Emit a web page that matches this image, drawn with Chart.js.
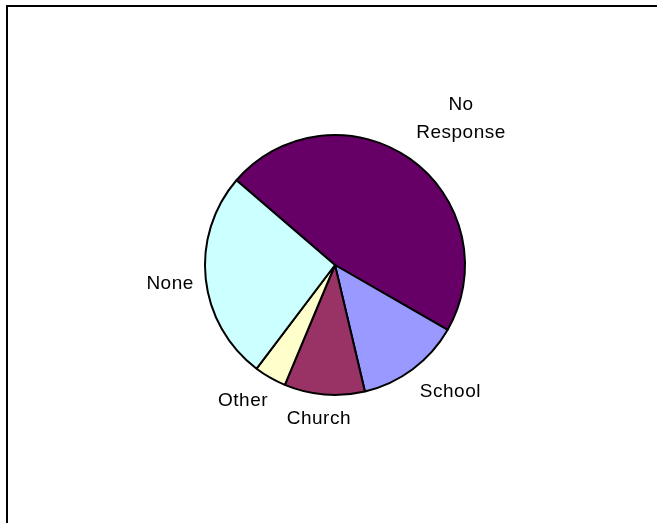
<!DOCTYPE html>
<html>
<head>
<meta charset="utf-8">
<script src="https://cdn.jsdelivr.net/npm/chart.js@4/dist/chart.umd.min.js"></script>
<style>
	body { margin:0; background:#fff; overflow:hidden; }
	#wrap { position:relative; width:657px; height:523px; overflow:hidden; }
	#frame { position:absolute; left:6px; top:5px; width:720px; height:600px; border-left:2px solid #000; border-top:2px solid #000; }
	#pie { position:absolute; left:0; top:0; }
</style>
</head>
<body>
<div id="wrap">
	<div id="frame"></div>
	<canvas id="pie" width="657" height="523"></canvas>
</div>
<script>
var categories = [ ["No","Response"], "School", "Church", "Other", "None" ];
var responses = [ 47, 13, 10, 4, 26 ];
var sliceColors = [ "#660066", "#9999FF", "#993366", "#FFFFCC", "#CCFFFF" ];

// labels sit just outside the rim along the slice's middle angle;
// the box slides sideways so a corner, not the centre, faces the pie
var outsideLabels =
	{
		id: 'outsideLabels',
		afterDraw: function(chart)
		{
			var ctx = chart.ctx;
			var meta = chart.getDatasetMeta(0);
			var gap = 12;
			var lineHeight = 28;
			var slide = function(t){ return Math.max(-1, Math.min(1, t * 1.7)); };
			
			ctx.save();
			ctx.font = '19px Arial, "Liberation Sans", sans-serif';
			ctx.letterSpacing = '0.5px';
			ctx.fillStyle = '#000';
			ctx.textAlign = 'center';
			ctx.textBaseline = 'middle';
			
			meta.data.forEach
			(
				function(arc, i)
				{
					var p = arc.getProps(['x','y','startAngle','endAngle','outerRadius'], true);
					var mid = (p.startAngle + p.endAngle) / 2;
					var ux = Math.cos(mid), uy = Math.sin(mid);
					
					var lines = [].concat(chart.data.labels[i]);
					var w = 0;
					lines.forEach(function(l){ w = Math.max(w, ctx.measureText(l).width); });
					var h = 22 + (lines.length - 1) * lineHeight * 1.5;
					
					var cx = p.x + ux * (p.outerRadius + gap) + (w/2) * slide(ux);
					var cy = p.y + uy * (p.outerRadius + gap) + (h/2) * slide(uy) + 1.5;
					
					lines.forEach
					(
						function(l, j)
						{
							ctx.fillText(l, cx, cy + (j - (lines.length - 1) / 2) * lineHeight);
						}
					);
				}
			);
			ctx.restore();
		}
	};

var chart = new Chart
(
	document.getElementById('pie').getContext('2d'),
	{
		type: 'pie',
		data: {
			labels: categories,
			datasets: [ {
				data: responses,
				backgroundColor: sliceColors,
				borderColor: '#000',
				borderWidth: 2,
				offset: 0,
				hoverOffset: 0
			} ]
		},
		options: {
			responsive: false,
			animation: false,
			rotation: -49.3,
			layout: { padding: { left: 204, right: 191, top: 134, bottom: 127 } },
			plugins: {
				legend: { display: false },
				tooltip: { enabled: false }
			},
			events: []
		},
		plugins: [ outsideLabels ]
	}
);
</script>
</body>
</html>
